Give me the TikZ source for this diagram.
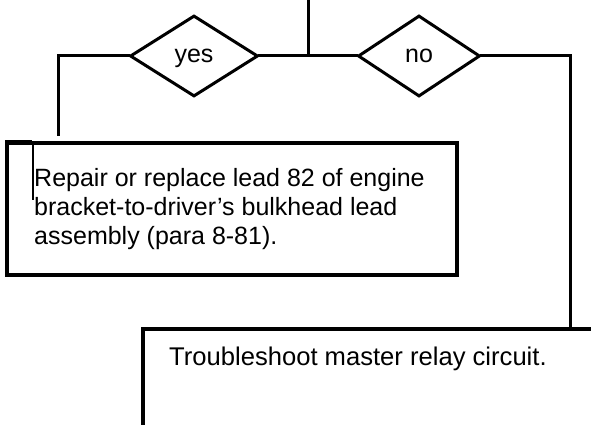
\documentclass[tikz,border=0pt]{standalone}
\usepackage{fontspec}
\setmainfont{Liberation Sans}
\usetikzlibrary{shapes.geometric}
\begin{document}
\begin{tikzpicture}[x=1pt,y=-1pt,
  line/.style={line width=3pt,line cap=rect},
  choice/.style={diamond,draw,line width=3pt,inner sep=0pt,
    text height=14pt,text depth=0pt,
    font=\fontsize{25}{29}\selectfont},
  txt/.style={inner sep=0pt,align=left,font=\fontsize{25}{29}\selectfont},
  boxline/.style={line width=3.2pt}]
\useasboundingbox (0,0) rectangle (591,425);
% decisions
\node[choice,minimum width=128pt,minimum height=81pt] (yes) at (194,56) {yes};
\node[choice,minimum width=122pt,minimum height=81pt] (no) at (419,56) {no};
\coordinate (top) at (308,0);
\coordinate (j) at (308,56);
\draw[line] (top) -- (j);
\draw[line] (yes.east) -- (no.west);
% box 1
\node[draw,boxline,minimum width=450pt,minimum height=132pt,inner sep=0pt] (box1) at (232,209) {};
\coordinate (lefttop) at (58,134);
\draw[line] (yes.west) -| (lefttop);
\coordinate (inA) at (33,143);
\coordinate (inB) at (33,200);
\draw[line width=1.8pt] (inA) -- (inB);
\coordinate (tk1) at (5,142);
\coordinate (tk2) at (32,142);
\draw[line width=3.6pt] (tk1) -- (tk2);
\node[txt,anchor=base west] (t1) at (34,244) {Repair or replace lead 82 of engine\\bracket-to-driver’s bulkhead lead\\assembly (para 8-81).};
% box 2 (open)
\coordinate (b2tl) at (143,329);
\coordinate (b2tr) at (591,329);
\coordinate (b2bl) at (143,425);
\coordinate (rc) at (570,329);
\draw[boxline] (b2bl) -- (b2tl) -- (b2tr);
\draw[line] (no.east) -| (rc);
\node[txt,anchor=base west,font=\fontsize{25.6}{29}\selectfont] (t2) at (169,365) {Troubleshoot master relay circuit.};
\end{tikzpicture}
\end{document}
